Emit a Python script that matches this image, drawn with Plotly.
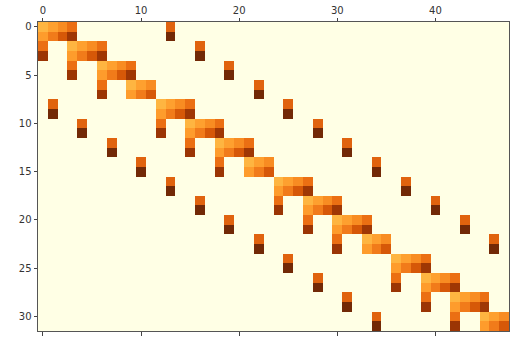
import plotly.graph_objects as go

# Sparsity pattern of a 32 x 48 block matrix: rows come in pairs, one pair per element.
n_rows = 32
n_cols = 48

# First column of each pair's main block and its width
block_start = [0, 3, 6, 9, 12, 15, 18, 21, 24, 27, 30, 33, 36, 39, 42, 45]
block_width = [4, 4, 4, 3, 4, 4, 4, 3, 4, 4, 4, 3, 4, 4, 4, 3]

# Coupling to the previous element in the same group (None = no coupling)
intra_col = [None, 0, 3, 6, None, 12, 15, 18, None, 24, 27, 30, None, 36, 39, 42]
# Coupling to the previous group and to the next group
prev_group_col = [None, None, None, None, 1, 4, 7, 10, 13, 16, 19, 22, 25, 28, 31, 34]
next_group_col = [13, 16, 19, 22, 25, 28, 31, 34, 37, 40, 43, 46, None, None, None, None]

# Entry magnitudes (normalised 0..1): upper / lower row of each pair
block_top = [0.42, 0.48, 0.54, 0.63]
block_bottom = [0.49, 0.59, 0.71, 0.86]
intra_values = [0.63, 0.87]
cross_values = [0.67, 0.97]

z = [[0.0] * n_cols for _ in range(n_rows)]
for k in range(len(block_start)):
    r0, r1 = 2 * k, 2 * k + 1
    for j in range(block_width[k]):
        c = block_start[k] + j
        z[r0][c] = block_top[j]
        z[r1][c] = block_bottom[j]
    if intra_col[k] is not None:
        z[r0][intra_col[k]] = intra_values[0]
        z[r1][intra_col[k]] = intra_values[1]
    for col in (prev_group_col[k], next_group_col[k]):
        if col is not None:
            z[r0][col] = cross_values[0]
            z[r1][col] = cross_values[1]

fig = go.Figure(
    go.Heatmap(
        z=z,
        x=list(range(n_cols)),
        y=list(range(n_rows)),
        colorscale="YlOrBr",
        zmin=0,
        zmax=1,
        showscale=False,
        hoverongaps=False,
    )
)

axis_font = dict(family="DejaVu Sans", size=10, color="#333333")
fig.update_xaxes(
    range=[-0.5, n_cols - 0.5],
    side="top",
    tickvals=[0, 10, 20, 30, 40],
    ticks="outside",
    ticklen=3.5,
    tickwidth=1,
    tickcolor="#444444",
    showline=True,
    linecolor="#555555",
    linewidth=1,
    mirror="ticks",
    showgrid=False,
    zeroline=False,
    tickfont=axis_font,
)
fig.update_yaxes(
    range=[n_rows - 0.5, -0.5],
    tickvals=[0, 5, 10, 15, 20, 25, 30],
    ticks="outside",
    ticklen=3.5,
    tickwidth=1,
    tickcolor="#444444",
    showline=True,
    linecolor="#555555",
    linewidth=1,
    mirror=True,
    showgrid=False,
    zeroline=False,
    tickfont=axis_font,
)
fig.update_layout(
    width=514,
    height=340,
    margin=dict(l=38, r=4, t=19, b=6),
    paper_bgcolor="white",
    plot_bgcolor="white",
)

fig.write_html("out.html")
